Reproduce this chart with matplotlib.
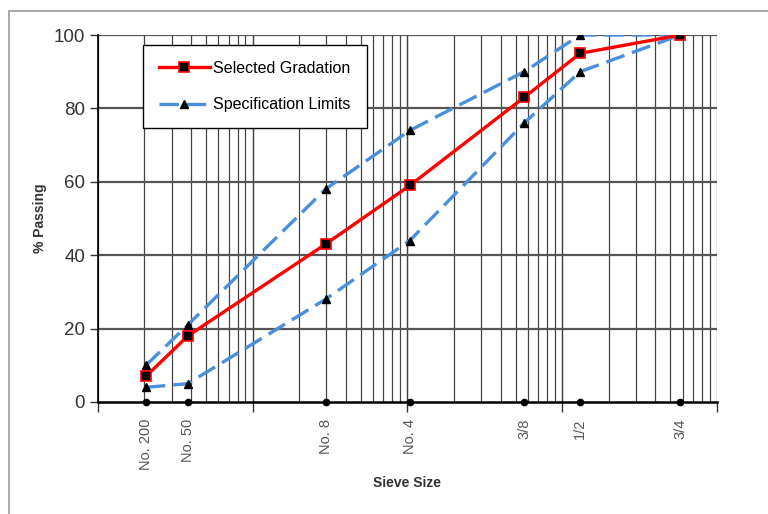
import numpy as np
import matplotlib
matplotlib.use("Agg")
import matplotlib.pyplot as plt
from matplotlib.patches import Rectangle
from matplotlib.transforms import blended_transform_factory

plt.rcParams["font.family"] = ["Liberation Sans", "DejaVu Sans"]

# sieve sizes and gradation data (% passing)
sieve_labels = ["No. 200", "No. 50", "No. 8", "No. 4", "3/8", "1/2", "3/4"]
sieve_mm = [0.075, 0.3, 2.36, 4.75, 9.5, 12.5, 19.0]
selected = [7, 18, 43, 59, 83, 95, 100]
spec_upper = [10, 21, 58, 74, 90, 100, 100]
spec_lower = [4, 5, 28, 44, 76, 90, 100]

# 0.45 power chart, drawn on a log axis (10 ** d^0.45)
x = 10 ** (np.array(sieve_mm) ** 0.45)

fig = plt.figure(figsize=(7.68, 5.14), dpi=100)
ax = fig.add_axes([97.7 / 768, (514 - 402) / 514, 619.3 / 768, 367 / 514])

# chart area border (left/top)
fig.patches.append(Rectangle((9 / 768, -0.1), 1.2, (514 - 11) / 514 + 0.1,
                             transform=fig.transFigure, fill=False,
                             edgecolor="#999999", lw=1.2, zorder=0))

ax.set_xscale("log")
ax.set_xlim(1, 1e4)
ax.set_ylim(0, 100)

# log style vertical grid
for dec in [1, 10, 100, 1000]:
    for k in range(1, 11):
        ax.axvline(dec * k, color="#444444", lw=0.9, zorder=1)
for yv in [20, 40, 60, 80, 100]:
    ax.axhline(yv, color="#555555", lw=1.6, zorder=1)

blue = "#4a8fdc"
ax.plot(x, spec_upper, color=blue, lw=2.4, dashes=(5.8, 2.4), marker="^",
        ms=5.5, mfc="black", mec="black", zorder=3, label="Specification Limits")
ax.plot(x, spec_lower, color=blue, lw=2.4, dashes=(5.8, 2.4), marker="^",
        ms=5.5, mfc="black", mec="black", zorder=3)
ax.plot(x, selected, color="#ff0000", lw=2.4, marker="s", ms=6.5,
        mfc="black", mec="#ff0000", mew=1.2, zorder=4, label="Selected Gradation")
ax.plot(x, np.zeros(len(x)), ls="none", marker="o", ms=4.5, color="black",
        clip_on=False, zorder=5)

# sieve labels under the axis
trans = blended_transform_factory(ax.transData, ax.transAxes)
for xi, lab in zip(x, sieve_labels):
    ax.text(xi, -0.045, lab, transform=trans, rotation=90, ha="center",
            va="top", fontsize=10.5, color="#555555")

ax.set_xticks([1, 10, 100, 1000, 10000])
ax.set_xticklabels([])
ax.xaxis.set_minor_locator(matplotlib.ticker.NullLocator())
ax.tick_params(axis="x", direction="out", length=7, width=1, color="#333333")
ax.set_yticks([0, 20, 40, 60, 80, 100])
ax.tick_params(axis="y", direction="out", length=6, width=1, color="#333333",
               labelsize=13.5, labelcolor="#333333", pad=3)

for s in ["top", "right"]:
    ax.spines[s].set_visible(False)
ax.spines["left"].set_linewidth(1.2)
ax.spines["bottom"].set_linewidth(1.8)

ax.set_xlabel("Sieve Size", fontsize=10, fontweight="bold", color="#333333",
              labelpad=43)
ax.set_ylabel("% Passing", fontsize=10, fontweight="bold", color="#333333",
              labelpad=5)

handles, labels = ax.get_legend_handles_labels()
leg = ax.legend(handles[::-1], labels[::-1], loc="upper left",
                bbox_to_anchor=(0.073, 0.973), borderaxespad=0,
                fontsize=11.5, handlelength=3.2, labelspacing=1.35,
                fancybox=False, framealpha=1, edgecolor="black",
                borderpad=1.0, handletextpad=0.2)
leg.get_frame().set_linewidth(1)
leg.set_zorder(6)

fig.savefig("out.png", dpi=100)
